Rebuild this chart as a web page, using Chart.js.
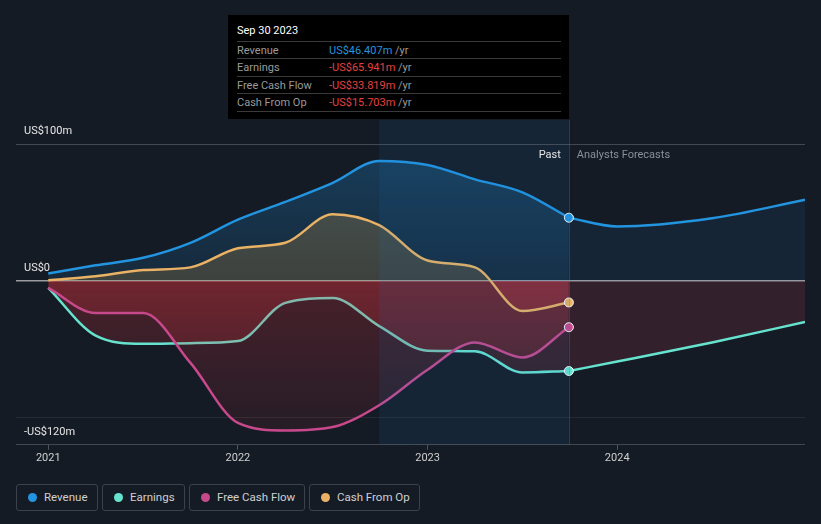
<!DOCTYPE html>
<html>
<head>
<meta charset="utf-8">
<script src="https://cdn.jsdelivr.net/npm/chart.js@4.4.0/dist/chart.umd.min.js"></script>
<style>
  body { margin: 0; background: #151b25; font-family: Roboto, "Noto Sans", sans-serif; width: 821px; height: 524px; overflow: hidden; position: relative; }
  #wrap { position: absolute; left: 0; top: 0; width: 821px; height: 470px; }
  .tip { position: absolute; left: 228px; top: 15px; width: 341px; height: 104px; background: #000; font-size: 11px; }
  .tip .date { position: absolute; left: 9px; top: 9px; color: #fff; font-size: 11px; }
  .tip .row { position: absolute; left: 9px; width: 324px; height: 17px; line-height: 17px; border-top: 1px solid #3a3a3a; color: #9a9a9a; }
  .tip .row.last { border-bottom: 1px solid #3a3a3a; }
  .tip .val { position: absolute; left: 92px; top: 0; }
  .tip .unit { color: #9a9a9a; }
  .blue { color: #2394df; }
  .red { color: #e5403f; }
  .legend-item { position: absolute; top: 484px; border: 1px solid #3b414d; border-radius: 3px; box-sizing: border-box; height: 27px; font-size: 11.5px; color: #d0d0d0; line-height: 25px; }
  .legend-item .dot { position: absolute; left: 11px; top: 8px; width: 9px; height: 9px; border-radius: 50%; }
  .legend-item .lbl { position: absolute; left: 27px; top: 0; white-space: nowrap; }
</style>
</head>
<body>
<div id="wrap"><canvas id="chart" width="821" height="470"></canvas></div>

<div class="tip">
  <div class="date">Sep 30 2023</div>
  <div class="row" style="top:26px">Revenue<span class="val"><span class="blue">US$46.407m</span> <span class="unit">/yr</span></span></div>
  <div class="row" style="top:43px">Earnings<span class="val"><span class="red">-US$65.941m</span> <span class="unit">/yr</span></span></div>
  <div class="row" style="top:61px">Free Cash Flow<span class="val"><span class="red">-US$33.819m</span> <span class="unit">/yr</span></span></div>
  <div class="row last" style="top:78px">Cash From Op<span class="val"><span class="red">-US$15.703m</span> <span class="unit">/yr</span></span></div>
</div>

<div class="legend-item" style="left:16px;width:82px"><span class="dot" style="background:#2394df"></span><span class="lbl">Revenue</span></div>
<div class="legend-item" style="left:102px;width:83px"><span class="dot" style="background:#66e3cf"></span><span class="lbl">Earnings</span></div>
<div class="legend-item" style="left:189px;width:116px"><span class="dot" style="background:#c7498c"></span><span class="lbl">Free Cash Flow</span></div>
<div class="legend-item" style="left:309px;width:111px"><span class="dot" style="background:#e9b264"></span><span class="lbl">Cash From Op</span></div>

<script>
// past quarters (decimal years) and the trailing values, US$m
const pastDates = [2021.0, 2021.25, 2021.5, 2021.75, 2022.0, 2022.25, 2022.5, 2022.745, 2023.0, 2023.25, 2023.5, 2023.745];
const revenue = [5.5, 11.5, 17, 28, 45, 58, 72, 88, 85, 74.5, 65, 46.407];
const earnings = [-5, -40, -46, -45.5, -44, -16, -12.5, -33, -51, -51.5, -67, -65.941];
const freeCashFlow = [-5, -23.5, -23.5, -60, -104, -109.5, -107, -91, -65, -45, -56, -33.819];
const cashFromOp = [0.5, 3.5, 8, 10, 24, 28, 49, 41, 15, 10, -22, -15.703];

// analyst forecasts
const forecastDates = [2023.745, 2024.0, 2024.5, 2024.99];
const revenueForecast = [46.407, 40, 46, 59.5];
const earningsForecast = [-65.941, -59, -45, -30];

const xTicks = [2021, 2022, 2023, 2024];
const yTicks = [-120, -100, 0, 100];
const xMin = 2020.83;
const highlightStart = 2022.745;
const pastEnd = 2023.745;

const colors = {
    revenue: "#2394df",
    earnings: "#66e3cf",
    fcf: "#c7498c",
    cfo: "#e9b264",
};

const toPoints = (dates, vals) => dates.map((d, i) => ({ x: d, y: vals[i] }));

// gradient: series colour above zero, red below zero
const areaFill = (rgb, aTop, aZero) => (c) => {
    const chart = c.chart;
    const area = chart.chartArea;
    if (!area || !chart.scales.y) return "rgba(0,0,0,0)";
    const y0 = chart.scales.y.getPixelForValue(0);
    const g = chart.ctx.createLinearGradient(0, area.top, 0, area.bottom);
    const z = Math.min(Math.max((y0 - area.top) / (area.bottom - area.top), 0), 1);
    g.addColorStop(0, `rgba(${rgb},${aTop})`);
    g.addColorStop(z, `rgba(${rgb},${aZero})`);
    g.addColorStop(Math.min(z + 0.001, 1), "rgba(215,50,60,0.27)");
    g.addColorStop(1, "rgba(215,50,60,0.07)");
    return g;
};

const lastIdx = pastDates.length - 1;
const pastLine = (label, vals, color, fill, order) => ({
    label,
    data: toPoints(pastDates, vals),
    borderColor: color,
    borderWidth: 2.5,
    backgroundColor: fill,
    fill: "origin",
    cubicInterpolationMode: "monotone",
    pointRadius: (c) => (c.dataIndex === lastIdx ? 4.5 : 0),
    pointHoverRadius: 0,
    pointBackgroundColor: color,
    pointBorderColor: "#ffffff",
    pointBorderWidth: 1,
    order,
});

const fmtMoney = (v) => {
    if (v === 0) return "US$0";
    return (v < 0 ? "-" : "") + "US$" + Math.abs(v) + "m";
};

// past highlight, divider and the Past / Forecast captions
const regionPlugin = {
    id: "regions",
    afterDatasetsDraw(chart) {
        const { ctx, chartArea, scales } = chart;
        const a = scales.x.getPixelForValue(highlightStart);
        const b = scales.x.getPixelForValue(pastEnd);
        ctx.save();
        ctx.fillStyle = "rgba(30,130,210,0.10)";
        ctx.fillRect(a, chartArea.top, b - a, chartArea.bottom - chartArea.top);
        ctx.strokeStyle = "rgba(40,130,210,0.35)";
        ctx.lineWidth = 1;
        ctx.beginPath();
        ctx.moveTo(Math.round(b) + 0.5, chartArea.top);
        ctx.lineTo(Math.round(b) + 0.5, chartArea.bottom);
        ctx.stroke();

        const ty = scales.y.getPixelForValue(100) + 11;
        ctx.font = "11px Roboto";
        ctx.textBaseline = "middle";
        ctx.textAlign = "right";
        ctx.fillStyle = "#e6e6e6";
        ctx.fillText("Past", b - 8, ty);
        ctx.textAlign = "left";
        ctx.fillStyle = "#8a8f98";
        ctx.fillText("Analysts Forecasts", b + 8, ty);
        ctx.restore();
    },
};

new Chart(document.getElementById("chart"), {
    type: "line",
    data: {
        datasets: [
            {
                label: "Revenue forecast",
                data: toPoints(forecastDates, revenueForecast),
                borderColor: colors.revenue,
                borderWidth: 2.5,
                backgroundColor: "rgba(33,148,223,0.09)",
                fill: "origin",
                cubicInterpolationMode: "monotone",
                pointRadius: 0,
                order: 8,
            },
            {
                label: "Earnings forecast",
                data: toPoints(forecastDates, earningsForecast),
                borderColor: colors.earnings,
                borderWidth: 2.5,
                backgroundColor: "rgba(170,60,80,0.2)",
                fill: "origin",
                cubicInterpolationMode: "monotone",
                pointRadius: 0,
                order: 7,
            },
            pastLine("Revenue", revenue, colors.revenue, areaFill("33,148,223", 0.32, 0.12), 6),
            pastLine("Earnings", earnings, colors.earnings, areaFill("102,227,207", 0.2, 0.1), 5),
            pastLine("Free Cash Flow", freeCashFlow, colors.fcf, areaFill("199,73,140", 0.2, 0.1), 4),
            pastLine("Cash From Op", cashFromOp, colors.cfo, areaFill("200,150,70", 0.3, 0.22), 3),
        ],
    },
    options: {
        responsive: false,
        animation: false,
        layout: { padding: { left: 0, right: 16, top: 120, bottom: 3 } },
        plugins: {
            legend: { display: false },
            tooltip: { enabled: false },
        },
        scales: {
            x: {
                type: "linear",
                min: xMin,
                max: forecastDates[forecastDates.length - 1],
                afterBuildTicks: (s) => { s.ticks = xTicks.map((v) => ({ value: v })); },
                ticks: {
                    color: "#cfcfcf",
                    font: { family: "Roboto", size: 11 },
                    padding: 2,
                    maxRotation: 0,
                    autoSkip: false,
                    callback: (v) => String(v),
                },
                grid: { drawOnChartArea: false, drawTicks: true, tickLength: 5, color: "rgba(255,255,255,0.25)" },
                border: { display: false },
            },
            y: {
                min: yTicks[0],
                max: 118,
                afterBuildTicks: (s) => { s.ticks = yTicks.map((v) => ({ value: v })); },
                ticks: {
                    mirror: true,
                    padding: 8,
                    labelOffset: -13,
                    autoSkip: false,
                    color: "#e6e6e6",
                    font: { family: "Roboto", size: 11 },
                    callback: (v) => (v === -100 ? "" : fmtMoney(v)),
                },
                grid: {
                    drawTicks: false,
                    color: (c) => {
                        const v = c.tick && c.tick.value;
                        if (v === 0) return "rgba(200,200,200,0.75)";
                        if (v === -100) return "rgba(255,255,255,0.07)";
                        return "rgba(255,255,255,0.2)";
                    },
                    lineWidth: (c) => (c.tick && c.tick.value === 0 ? 1.5 : 1),
                },
                border: { display: false },
            },
        },
    },
    plugins: [regionPlugin],
});
</script>
</body>
</html>
